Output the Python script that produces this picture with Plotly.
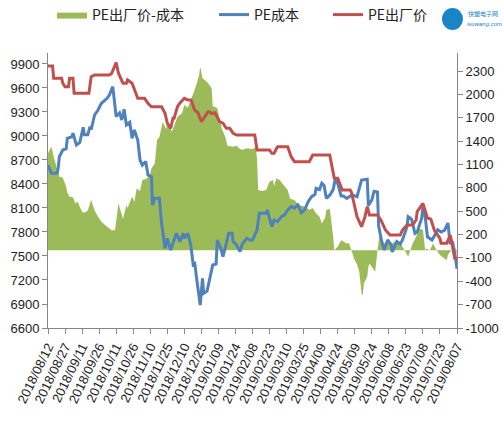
import pandas as pd
import plotly.graph_objects as go

START = "2018-08-12"
END = "2019-08-07"

# ---- data: day offsets from START ----
price_days = [0, 4, 5, 12, 13, 15, 18, 19, 22, 23,
              36, 38, 41, 54, 56, 60, 62, 66, 69, 70,
              74, 76, 79, 85, 88, 91, 100, 103, 105, 108,
              110, 111, 114, 116, 120, 123, 126, 129, 132, 135,
              137, 141, 142, 144, 147, 151, 154, 157, 160, 163,
              166, 182, 184, 195, 197, 199, 202, 211, 212, 214,
              217, 230, 233, 248, 250, 252, 255, 257, 259, 266,
              267, 270, 272, 276, 279, 281, 283, 290, 293, 297,
              301, 310, 312, 316, 321, 324, 325, 330, 332, 334,
              337, 340, 345, 346, 351, 354, 355, 358, 360]
price_vals = [9875, 9875, 9721, 9721, 9659, 9616, 9616, 9721, 9721, 9534,
              9534, 9741, 9762, 9762, 9780, 9916, 9784, 9659, 9659, 9700,
              9659, 9575, 9471, 9471, 9409, 9366, 9366, 9284, 9159, 9096,
              9221, 9221, 9366, 9409, 9471, 9450, 9450, 9325, 9290, 9179,
              9220, 9303, 9303, 9280, 9290, 9179, 9160, 9096, 9096, 9034,
              9012, 9012, 8825, 8825, 8784, 8784, 8866, 8866, 8825, 8741,
              8679, 8679, 8762, 8762, 8616, 8471, 8471, 8409, 8325, 8325,
              8300, 8116, 7991, 7866, 7991, 8116, 8012, 8012, 7950, 7825,
              7762, 7762, 7825, 7887, 7887, 7950, 8054, 8158, 8080, 7975,
              7960, 7825, 7721, 7658, 7658, 7762, 7700, 7471, 7460]

cost_days = [0, 3, 8, 9, 10, 13, 16, 17, 21, 22,
             25, 28, 31, 32, 35, 37, 38, 41, 44, 47,
             52, 54, 57, 60, 61, 63, 65, 67, 69, 72,
             74, 76, 79, 81, 83, 86, 88, 91, 92, 94,
             98, 100, 103, 105, 108, 110, 113, 116, 119, 120,
             123, 125, 126, 128, 129, 131, 133, 134, 136, 137,
             140, 142, 145, 148, 149, 152, 154, 156, 159, 162,
             163, 166, 169, 171, 175, 178, 180, 184, 186, 192,
             193, 197, 199, 202, 206, 208, 211, 214, 217, 220,
             223, 226, 229, 232, 235, 236, 239, 241, 243, 245,
             248, 251, 253, 255, 258, 260, 263, 265, 268, 272,
             274, 276, 281, 282, 285, 287, 290, 291, 294, 296,
             299, 302, 303, 307, 310, 312, 316, 317, 320, 323,
             325, 329, 330, 332, 334, 338, 340, 343, 346, 349,
             352, 354, 356, 358, 360]
cost_vals = [8637, 8534, 8534, 8600, 8741, 8825, 8840, 8971, 8990, 9034,
             8887, 8920, 9109, 9016, 9016, 9116, 9080, 9262, 9325, 9409,
             9471, 9512, 9616, 9241, 9260, 9290, 9200, 9333, 9137, 9170,
             8971, 9075, 8950, 8700, 8637, 8680, 8512, 8490, 8137, 8221,
             8221, 7908, 7596, 7721, 7575, 7650, 7783, 7680, 7783, 7720,
             7783, 7680, 7600, 7366, 7430, 7200, 6950, 6887, 7221, 7033,
             7060, 7200, 7387, 7400, 7700, 7600, 7491, 7600, 7783, 7783,
             7680, 7640, 7554, 7650, 7720, 7700, 7700, 7825, 8033, 8033,
             8075, 7866, 7950, 7930, 8000, 8010, 8075, 8116, 8100, 8137,
             8040, 8080, 8179, 8241, 8270, 8346, 8330, 8409, 8380, 8221,
             8260, 8330, 8471, 8409, 8250, 8250, 8220, 8241, 8262, 8241,
             8350, 8450, 8460, 8130, 8200, 8308, 8300, 7880, 7660, 7575,
             7700, 7640, 7550, 7680, 7650, 7700, 7866, 7991, 7960, 7783,
             7800, 7980, 8116, 7990, 7740, 7700, 7750, 7829, 7800, 7820,
             7912, 7650, 7680, 7537, 7340]

diff_days = [0, 3, 5, 8, 10, 13, 16, 17, 19, 22,
             24, 26, 30, 32, 35, 38, 41, 44, 47, 52,
             56, 59, 61, 62, 65, 66, 69, 70, 74, 76,
             78, 81, 83, 87, 90, 91, 94, 96, 98, 101,
             104, 105, 109, 111, 114, 118, 120, 123, 126, 128,
             131, 133, 134, 136, 138, 141, 144, 145, 149, 151,
             153, 156, 158, 163, 166, 169, 171, 175, 178, 180,
             183, 184, 185, 188, 192, 195, 198, 199, 201, 204,
             206, 211, 213, 217, 221, 226, 230, 233, 236, 239,
             241, 244, 245, 248, 251, 252, 255, 258, 263, 265,
             267, 270, 272, 274, 276, 277, 278, 281, 282, 283,
             286, 288, 290, 292, 294, 296, 299, 303, 307, 310,
             312, 314, 317, 319, 321, 324, 327, 330, 332, 333,
             336, 339, 342, 345, 347, 351, 352, 355, 358, 360]
diff_vals = [1243, 1328, 1200, 1050, 943, 930, 814, 740, 686, 680,
             600, 620, 493, 480, 510, 643, 510, 429, 364, 300,
             257, 257, 514, 600, 450, 400, 578, 540, 686, 620,
             793, 760, 900, 920, 986, 1050, 1114, 1414, 1450, 1650,
             1550, 1680, 1520, 1600, 1714, 1757, 1864, 1830, 1929, 2014,
             2143, 2250, 2357, 2207, 2186, 2143, 2078, 1850, 1821, 1700,
             1560, 1457, 1340, 1328, 1340, 1300, 1290, 1310, 1300, 1300,
             1320, 1157, 771, 760, 771, 878, 900, 820, 921, 900,
             860, 771, 664, 640, 578, 560, 520, 540, 471, 430,
             343, 420, 514, 530, 171, 0, 43, 128, 85, 90,
             0, -130, -180, -279, -557, -579, -429, -343, -214, -171,
             -236, -279, 0, 214, 150, 86, 128, 86, 128, 100,
             43, 0, -86, 0, 86, 171, 279, 260, 0, 20,
             0, 86, 0, -64, -86, -129, -60, 0, 43, -43]

x_tick_labels = ["2018/08/12", "2018/08/27", "2018/09/11", "2018/09/26", "2018/10/11",
                 "2018/10/26", "2018/11/10", "2018/11/25", "2018/12/10", "2018/12/25",
                 "2019/01/09", "2019/01/24", "2019/02/08", "2019/02/23", "2019/03/10",
                 "2019/03/25", "2019/04/09", "2019/04/24", "2019/05/09", "2019/05/24",
                 "2019/06/08", "2019/06/23", "2019/07/08", "2019/07/23", "2019/08/07"]
left_ticks = [6600, 6900, 7200, 7500, 7800, 8100, 8400, 8700, 9000, 9300, 9600, 9900]
right_ticks = [-1000, -700, -400, -100, 200, 500, 800, 1100, 1400, 1700, 2000, 2300]

# ---- build ----
W, H = 503, 428
ML, MR, MT, MB = 48, 46, 53, 100
base = pd.Timestamp(START)


def to_dates(days):
    return [base + pd.Timedelta(days=d) for d in days]


FONT = "Liberation Sans Narrow, Liberation Sans, Arial, sans-serif"
CJK = "Noto Sans CJK SC, sans-serif"
AX = "#868686"

fig = go.Figure()
fig.add_trace(go.Scatter(
    x=to_dates(diff_days), y=diff_vals, name="PE出厂价-成本", mode="lines",
    line=dict(width=0, color="#9BBB59"), fill="tozeroy", fillcolor="#9BBB59",
    yaxis="y", legend="legend"))
fig.add_trace(go.Scatter(
    x=to_dates(cost_days), y=cost_vals, name="PE成本", mode="lines",
    line=dict(width=3, color="#4F81BD"), yaxis="y2", legend="legend2"))
fig.add_trace(go.Scatter(
    x=to_dates(price_days), y=price_vals, name="PE出厂价", mode="lines",
    line=dict(width=3, color="#C0504D"), yaxis="y2", legend="legend3"))


def leg(px_left):
    return dict(orientation="h", xref="container", yref="container",
                x=px_left / W, y=1 - 15 / H, xanchor="left", yanchor="middle",
                font=dict(family=CJK, size=14, color="#222"),
                itemwidth=30, bgcolor="rgba(0,0,0,0)", borderwidth=0)


fig.update_layout(
    width=W, height=H,
    margin=dict(l=ML, r=MR, t=MT, b=MB, autoexpand=False),
    paper_bgcolor="white", plot_bgcolor="white",
    font=dict(family=FONT, size=12, color="#222"),
    showlegend=True,
    legend=leg(52), legend2=leg(214), legend3=leg(328),
    xaxis=dict(type="date", range=[START, END],
               tickvals=to_dates([15 * i for i in range(len(x_tick_labels))]),
               ticktext=x_tick_labels, tickangle=-64,
               ticks="outside", ticklen=5, tickcolor=AX,
               showline=True, linecolor=AX, linewidth=1,
               showgrid=False, zeroline=False,
               tickfont=dict(family=FONT, size=13, color="#222")),
    yaxis=dict(side="right", range=[-1000, 2532],
               tickvals=right_ticks, ticktext=[str(v) for v in right_ticks],
               ticks="outside", ticklen=5, tickcolor=AX,
               showline=True, linecolor=AX, linewidth=1,
               showgrid=False, zeroline=False,
               tickfont=dict(family=FONT, size=13, color="#222")),
    yaxis2=dict(side="left", overlaying="y", range=[6600, 10037],
                tickvals=left_ticks, ticktext=[str(v) for v in left_ticks],
                ticks="outside", ticklen=5, tickcolor=AX,
                showline=True, linecolor=AX, linewidth=1,
                showgrid=False, zeroline=False,
                tickfont=dict(family=FONT, size=13, color="#222")),
)


# logo approximation (pixel positions converted to paper coords)
def px(xp):
    return (xp - ML) / (W - ML - MR)


def py(yp):
    return (H - MB - yp) / (H - MT - MB)


fig.add_shape(type="circle", xref="paper", yref="paper",
              x0=px(442), x1=px(463), y0=py(30), y1=py(8),
              fillcolor="#1B84C6", line=dict(width=0))
fig.add_annotation(xref="paper", yref="paper", x=px(466), y=py(14),
                   text="快塑电子网", showarrow=False, xanchor="left", yanchor="middle",
                   font=dict(family=CJK, size=6, color="#1B84C6"))
fig.add_annotation(xref="paper", yref="paper", x=px(465), y=py(24),
                   text="<i>isuwang.com</i>", showarrow=False, xanchor="left", yanchor="middle",
                   font=dict(family="Liberation Sans, sans-serif", size=6, color="#1B84C6"))

fig.write_html("out.html",
               config={"displayModeBar": False, "staticPlot": True},
               post_script="document.body.style.margin='0';document.body.style.overflow='hidden';")
